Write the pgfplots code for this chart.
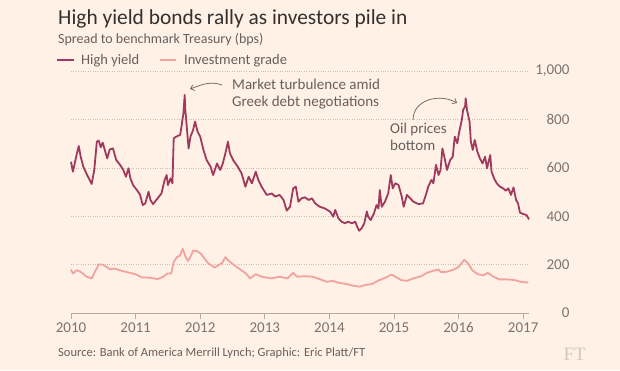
\documentclass[border=0pt]{standalone}
\usepackage{pgfplots}
\pgfplotsset{compat=1.18}
\usepackage{fontspec}
\setmainfont{Carlito}
\usetikzlibrary{arrows.meta}
\definecolor{bg}{HTML}{FFF1E5}
\definecolor{titlec}{HTML}{33302E}
\definecolor{subc}{HTML}{66605C}
\definecolor{tickc}{HTML}{7A7470}
\definecolor{gridc}{HTML}{C9BFB5}
\definecolor{axisc}{HTML}{B3ABA3}
\definecolor{hy}{HTML}{A0395E}
\definecolor{ig}{HTML}{F2A3A0}
\definecolor{ftc}{HTML}{D3C9BE}

\pgfplotstableread{
x y
2010.00 625
2010.03 584
2010.08 646
2010.12 690
2010.15 646
2010.19 605
2010.25 570
2010.32 533
2010.36 591
2010.40 708
2010.43 712
2010.46 685
2010.49 704
2010.53 667
2010.56 639
2010.60 676
2010.65 680
2010.70 632
2010.76 612
2010.81 591
2010.85 563
2010.89 598
2010.92 556
2010.96 529
2011.02 508
2011.07 488
2011.11 446
2011.15 453
2011.20 501
2011.23 467
2011.27 450
2011.32 467
2011.40 494
2011.45 550
2011.48 570
2011.50 529
2011.54 556
2011.57 536
2011.59 722
2011.63 729
2011.69 736
2011.71 770
2011.74 825
2011.76 901
2011.77 839
2011.79 777
2011.82 680
2011.85 729
2011.89 756
2011.92 791
2011.96 749
2012.00 729
2012.05 674
2012.10 632
2012.16 605
2012.20 570
2012.26 618
2012.31 591
2012.35 618
2012.39 660
2012.43 708
2012.46 660
2012.51 632
2012.58 605
2012.64 577
2012.70 522
2012.75 563
2012.80 536
2012.86 584
2012.90 550
2012.95 522
2013.03 488
2013.11 494
2013.16 481
2013.23 488
2013.29 467
2013.34 423
2013.39 439
2013.44 515
2013.48 522
2013.52 460
2013.57 474
2013.62 478
2013.68 467
2013.73 474
2013.78 453
2013.85 439
2013.93 432
2014.01 419
2014.06 398
2014.09 426
2014.14 391
2014.19 377
2014.24 371
2014.29 377
2014.35 371
2014.40 377
2014.43 357
2014.46 340
2014.50 350
2014.54 371
2014.58 419
2014.60 398
2014.64 384
2014.69 412
2014.73 446
2014.76 432
2014.78 508
2014.81 439
2014.86 460
2014.91 494
2014.95 570
2014.98 515
2015.02 536
2015.07 529
2015.12 481
2015.15 439
2015.20 488
2015.25 474
2015.30 460
2015.38 450
2015.45 453
2015.50 494
2015.53 522
2015.58 550
2015.61 536
2015.65 612
2015.69 570
2015.72 591
2015.75 680
2015.79 632
2015.82 591
2015.87 632
2015.91 646
2015.94 729
2015.98 701
2016.01 749
2016.05 798
2016.07 839
2016.10 853
2016.11 887
2016.13 839
2016.17 791
2016.19 708
2016.22 674
2016.25 715
2016.29 667
2016.33 639
2016.37 618
2016.41 646
2016.44 598
2016.49 653
2016.51 584
2016.55 556
2016.59 536
2016.64 522
2016.69 515
2016.73 505
2016.77 515
2016.81 488
2016.85 519
2016.89 467
2016.92 453
2016.95 415
2017.00 409
2017.05 405
2017.09 387
}\hytable

\pgfplotstableread{
x y
2010.00 180
2010.03 163
2010.09 177
2010.15 170
2010.24 150
2010.32 143
2010.37 170
2010.43 201
2010.49 200
2010.55 190
2010.61 180
2010.67 184
2010.79 174
2010.91 166
2011.00 160
2011.10 147
2011.22 146
2011.34 140
2011.43 150
2011.49 163
2011.55 163
2011.59 211
2011.64 231
2011.69 238
2011.73 265
2011.77 234
2011.81 215
2011.86 238
2011.89 258
2011.95 256
2012.01 245
2012.07 224
2012.13 204
2012.22 188
2012.28 197
2012.34 207
2012.39 231
2012.43 218
2012.53 197
2012.62 180
2012.71 163
2012.77 143
2012.86 160
2012.95 150
2013.10 143
2013.23 150
2013.35 143
2013.44 166
2013.50 150
2013.62 152
2013.74 150
2013.86 139
2013.96 129
2014.05 133
2014.14 125
2014.26 120
2014.38 112
2014.47 109
2014.56 116
2014.66 120
2014.75 133
2014.87 146
2014.96 159
2015.02 150
2015.11 136
2015.20 133
2015.30 143
2015.42 152
2015.51 166
2015.60 174
2015.69 180
2015.72 170
2015.81 170
2015.90 177
2015.99 188
2016.04 204
2016.09 220
2016.15 204
2016.21 177
2016.30 160
2016.39 156
2016.45 166
2016.54 150
2016.63 139
2016.75 139
2016.87 136
2016.96 129
2017.08 126
}\igtable

\begin{document}
\begin{tikzpicture}[x=1pt,y=1pt]
\fill[bg] (0,0) rectangle (620,370);
% title
\node[anchor=base west, inner sep=0, text=titlec, font=\fontsize{21.4}{23}\selectfont] at (58,370-24.5) {High yield bonds rally as investors pile in};
\node[anchor=base west, inner sep=0, text=subc, font=\fontsize{14}{16}\selectfont] at (58,370-43.5) {Spread to benchmark Treasury (bps)};
% legend
\draw[hy, line width=2.2pt] (57,370-60) -- (74,370-60);
\node[anchor=base west, inner sep=0, text=subc, font=\fontsize{14.5}{16}\selectfont] at (81,370-64.5) {High yield};
\draw[ig, line width=2.2pt] (160,370-60) -- (176,370-60);
\node[anchor=base west, inner sep=0, text=subc, font=\fontsize{14.5}{16}\selectfont] at (184,370-64.5) {Investment grade};
% axis
\begin{axis}[
  at={(71pt,57pt)}, anchor=south west,
  scale only axis, width=458pt, height=242pt,
  xmin=2010, xmax=2017.09, ymin=0, ymax=1000,
  axis x line*=bottom, axis y line*=right,
  x axis line style={draw=axisc, line width=0.8pt, -},
  y axis line style={draw=none},
  xtick={2010,2011,2012,2013,2014,2015,2016,2017},
  xticklabels={2010,2011,2012,2013,2014,2015,2016,2017},
  ytick={0,200,400,600,800,1000},
  yticklabels={0,200,400,600,800,{1,000}},
  tick align=outside,
  xtick style={draw=axisc, line width=0.8pt},
  major tick length=6pt,
  ytick style={draw=none},
  ymajorgrids,
  grid style={gridc, dotted, line width=0.6pt},
  ticklabel style={text=tickc, font=\fontsize{15}{17}\selectfont},
  yticklabel style={anchor=east, xshift=38pt},
  /pgf/number format/assume math mode=true,
  clip=false,
]
\addplot[ig, line width=1.8pt, line join=round] table[x=x,y=y] {\igtable};
\addplot[hy, line width=1.8pt, line join=round] table[x=x,y=y] {\hytable};
\end{axis}
% annotations
\node[anchor=north west, align=left, inner sep=0, text=subc, font=\fontsize{15}{17}\selectfont] at (232,370-79) {Market turbulence amid\\Greek debt negotiations};
\draw[subc, line width=0.7pt, -{Straight Barb[length=3.5pt,width=6pt]}] (222,370-85) to[out=160,in=20] (190,370-89);
\node[anchor=north west, align=left, inner sep=0, text=subc, font=\fontsize{15}{17}\selectfont] at (390,370-123) {Oil prices\\bottom};
\draw[subc, line width=0.7pt, -{Straight Barb[length=3.5pt,width=6pt]}] (413,370-120) to[out=90,in=150,looseness=1.1] (457,370-103);
% source
\node[anchor=base west, inner sep=0, text=subc, font=\fontsize{12.5}{14}\selectfont] at (58,370-356) {Source: Bank of America Merrill Lynch; Graphic: Eric Platt/FT};
\node[anchor=base east, inner sep=0, text=ftc, font=\fontsize{19}{20}\selectfont] at (586,370-360) {\fontspec{Liberation Serif}FT};
\end{tikzpicture}
\end{document}
